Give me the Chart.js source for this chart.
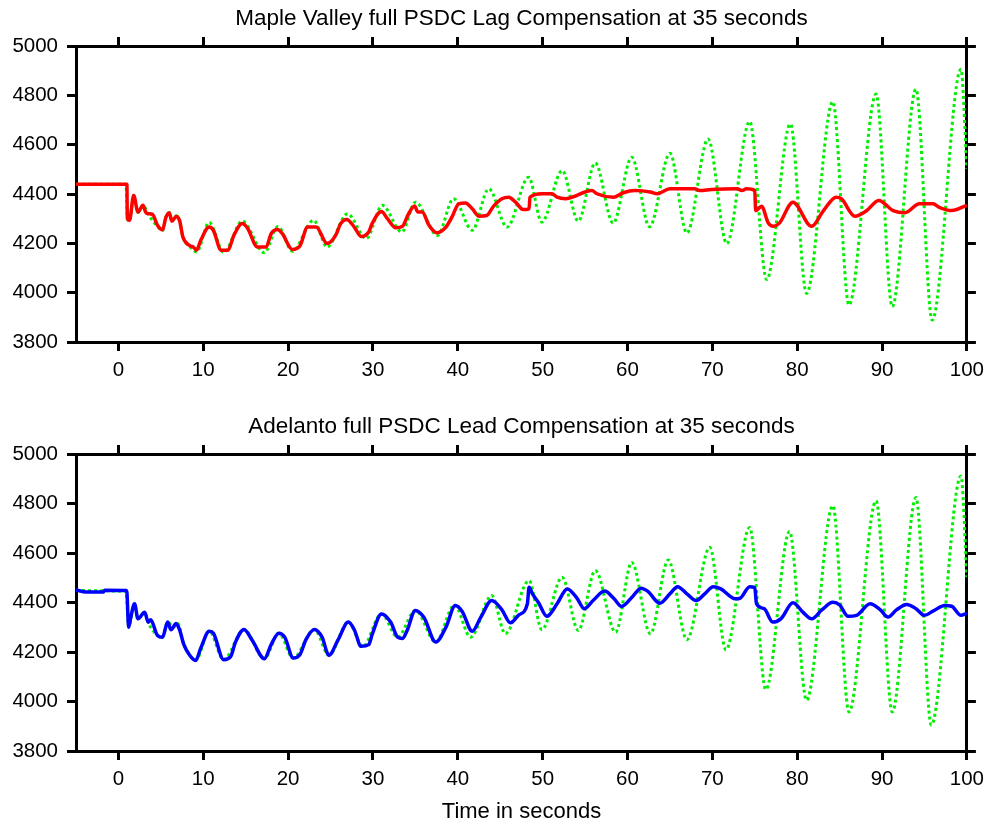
<!DOCTYPE html>
<html>
<head>
<meta charset="utf-8">
<title>PSDC Compensation</title>
<script src="https://cdn.jsdelivr.net/npm/chart.js@4.4.1/dist/chart.umd.min.js"></script>
<style>
  body { margin: 0; background: #fff; }
  #wrap { position: relative; width: 991px; height: 827px; }
  canvas { position: absolute; left: 0; }
  #chart-top { top: 0; }
  #chart-bottom { top: 400px; }
</style>
</head>
<body>
<div id="wrap">
  <canvas id="chart-top" width="991" height="400"></canvas>
  <canvas id="chart-bottom" width="991" height="427"></canvas>
</div>
<script>
// axis ticks
const xTicks = [0, 10, 20, 30, 40, 50, 60, 70, 80, 90, 100];
const yTicks = [3800, 4000, 4200, 4400, 4600, 4800, 5000];

// Maple Valley, no compensation (green dotted) - [time, value]
const mapleOpen = [[-5, 4440], [0.9, 4440], [1.05, 4300], [1.3, 4290], [1.8, 4395], [2.3, 4325], [2.9, 4355], [3.5, 4318],
  [4.6, 4270], [5.2, 4252], [5.6, 4305], [6.0, 4325], [6.3, 4288], [6.8, 4312], [7.2, 4295], [7.6, 4225], [8.4, 4188],
  [9.2, 4165], [10.7, 4285], [12.4, 4163], [14.6, 4290], [17.2, 4162], [18.8, 4268], [20.5, 4168], [23.0, 4293],
  [24.6, 4185], [27.0, 4320], [29.2, 4219], [31.1, 4354], [33.4, 4246], [35.0, 4367], [37.6, 4232], [39.5, 4381],
  [41.7, 4253], [43.65, 4421], [45.8, 4266], [48.35, 4468], [49.9, 4286], [52.3, 4495], [54.2, 4290], [56.2, 4526],
  [58.3, 4282], [60.5, 4549], [62.6, 4267], [65.0, 4565], [67.0, 4242], [69.5, 4623], [71.7, 4199], [74.4, 4694],
  [76.4, 4053], [79.2, 4684], [81.1, 3997], [84.2, 4774], [86.1, 3950], [89.3, 4805], [91.2, 3943], [94.0, 4825],
  [95.9, 3889], [99.3, 4906], [100, 4502]];

// Maple Valley, lag compensation (red)
const mapleLag = [[-5, 4440], [1.0, 4440], [1.05, 4300], [1.3, 4293], [1.8, 4394], [2.3, 4327], [2.9, 4354], [3.2, 4327],
  [3.5, 4320], [4.0, 4318], [4.6, 4273], [5.2, 4255], [5.6, 4306], [6.0, 4323], [6.3, 4290], [6.8, 4309], [7.2, 4293],
  [7.6, 4226], [8.35, 4192], [8.9, 4183], [9.2, 4172], [9.7, 4212], [10.7, 4266], [11.2, 4252], [12.1, 4172],
  [12.9, 4172], [13.6, 4232], [14.6, 4280], [15.2, 4262], [16.4, 4185], [17.4, 4185], [18.0, 4239], [18.75, 4256],
  [19.3, 4240], [20.5, 4175], [21.4, 4190], [22.3, 4266], [23.3, 4266], [24.6, 4199], [25.6, 4232], [26.2, 4280],
  [26.9, 4297], [27.8, 4266], [28.6, 4228], [29.5, 4246], [29.9, 4280], [31.0, 4329], [31.7, 4300], [32.7, 4263],
  [33.5, 4270], [34.2, 4320], [34.9, 4351], [35.3, 4327], [35.8, 4327], [36.6, 4273], [37.5, 4243], [38.6, 4266],
  [39.3, 4306], [40.1, 4360], [40.9, 4364], [41.7, 4340], [42.5, 4310], [43.4, 4313], [44.2, 4350], [45.2, 4381],
  [46.0, 4387], [46.8, 4367], [47.7, 4337], [48.4, 4340], [48.5, 4387], [49.9, 4401], [51.1, 4401], [51.7, 4387],
  [52.7, 4381], [53.8, 4391], [55.0, 4408], [55.8, 4414], [56.4, 4401], [58.4, 4387], [59.5, 4405], [60.9, 4414],
  [62.7, 4408], [63.5, 4401], [65.0, 4421], [67.9, 4421], [68.5, 4414], [69.9, 4418], [72.9, 4421], [73.5, 4414],
  [74.0, 4421], [75.0, 4414], [75.1, 4333], [75.8, 4350], [76.6, 4282], [77.2, 4269], [77.9, 4282], [79.5, 4367],
  [81.7, 4269], [83.1, 4333], [84.6, 4387], [85.2, 4381], [86.8, 4310], [88.2, 4333], [89.6, 4374], [91.3, 4333],
  [92.7, 4324], [94.4, 4360], [96.0, 4360], [96.8, 4345], [98.2, 4333], [100, 4354]];

// Adelanto, no compensation (green dotted)
const adelOpen = [[-5, 4448], [0.9, 4445], [1.2, 4300], [1.9, 4395], [2.3, 4334], [3.1, 4361], [3.5, 4320], [4.6, 4267],
  [5.2, 4260], [5.8, 4321], [6.5, 4300], [7.0, 4315], [7.7, 4231], [8.4, 4187], [9.1, 4166], [10.7, 4284], [12.4, 4169],
  [14.8, 4291], [17.2, 4173], [18.9, 4276], [20.6, 4176], [23.1, 4291], [24.8, 4187], [27.1, 4321], [28.8, 4223],
  [31.0, 4354], [32.9, 4260], [35.0, 4368], [37.4, 4240], [39.6, 4390], [41.5, 4260], [44.0, 4428], [45.6, 4274],
  [48.4, 4489], [49.9, 4290], [52.3, 4502], [54.2, 4287], [56.2, 4529], [58.6, 4280], [60.5, 4562], [62.7, 4274],
  [64.8, 4572], [67.0, 4250], [69.7, 4623], [71.6, 4209], [74.4, 4703], [76.3, 4048], [79.1, 4687], [81.1, 4005],
  [84.2, 4791], [86.1, 3958], [89.3, 4811], [91.2, 3958], [94.0, 4824], [95.8, 3905], [99.3, 4911], [100, 4502]];

// Adelanto, lead compensation (blue)
const adelLead = [[-5, 4451], [-3.8, 4442], [-1.8, 4442], [-1.6, 4450], [0.9, 4448], [1.0, 4440], [1.2, 4300], [1.4, 4330],
  [1.9, 4395], [2.3, 4334], [3.1, 4361], [3.5, 4320], [3.8, 4330], [4.6, 4267], [5.2, 4260], [5.8, 4321], [6.2, 4290],
  [6.8, 4315], [7.2, 4290], [7.7, 4231], [8.4, 4187], [9.1, 4166], [9.7, 4215], [10.7, 4284], [11.2, 4276], [12.4, 4169],
  [13.2, 4180], [13.8, 4240], [14.8, 4291], [15.8, 4245], [17.2, 4173], [18.0, 4230], [18.9, 4276], [19.6, 4260],
  [20.6, 4176], [21.4, 4190], [22.1, 4250], [23.1, 4291], [24.0, 4260], [24.8, 4187], [25.9, 4250], [27.1, 4321],
  [27.8, 4290], [28.6, 4223], [29.5, 4230], [29.9, 4270], [31.0, 4354], [32.1, 4320], [32.9, 4260], [33.5, 4255],
  [34.0, 4285], [35.0, 4368], [36.0, 4340], [37.4, 4240], [38.6, 4300], [39.7, 4388], [40.5, 4365], [41.7, 4284],
  [42.7, 4340], [44.0, 4408], [45.2, 4370], [46.2, 4318], [47.2, 4350], [48.2, 4395], [48.4, 4462], [48.8, 4435],
  [49.5, 4400], [50.5, 4344], [51.7, 4395], [52.9, 4455], [54.0, 4420], [54.9, 4375], [56.0, 4410], [57.3, 4446],
  [58.4, 4416], [59.3, 4384], [60.5, 4420], [61.6, 4458], [62.4, 4445], [63.8, 4397], [65.0, 4435], [65.9, 4464],
  [67.0, 4435], [68.1, 4408], [69.1, 4435], [70.1, 4464], [71.0, 4455], [72.7, 4415], [73.3, 4418], [74.4, 4464],
  [75.0, 4460], [75.2, 4395], [76.1, 4375], [77.1, 4321], [78.1, 4335], [79.5, 4399], [80.7, 4360], [81.7, 4334],
  [82.9, 4370], [84.2, 4401], [85.0, 4390], [86.0, 4344], [87.0, 4348], [88.6, 4395], [89.8, 4370], [90.7, 4341],
  [91.7, 4370], [92.9, 4392], [94.0, 4375], [95.0, 4348], [96.0, 4365], [97.4, 4388], [98.2, 4385], [99.3, 4348],
  [100, 4357]];

Chart.defaults.font.family = "Arial, 'Liberation Sans', sans-serif";
Chart.defaults.color = '#000';

function toPoints(pares) {
  return pares.map(p => ({ x: p[0], y: p[1] }));
}

function greenLine(pares) {
  return {
    label: 'No compensation',
    data: toPoints(pares),
    borderColor: '#00ee00',
    borderWidth: 3,
    borderDash: [3, 3],
    cubicInterpolationMode: 'monotone',
    pointRadius: 0,
    order: 2
  };
}

function solidLine(pares, label, color) {
  return {
    label: label,
    data: toPoints(pares),
    borderColor: color,
    borderWidth: 3.5,
    cubicInterpolationMode: 'monotone',
    pointRadius: 0,
    order: 1
  };
}

function makeChart(id, titleText, titlePadding, datasets, xHeight, xTitle) {
  // only the little tick marks outside the box, no grid
  const tickOnly = { drawOnChartArea: false, drawTicks: true, tickLength: 9, tickWidth: 3, tickColor: '#000', color: '#000', lineWidth: 3 };
  const border = { display: true, width: 3, color: '#000' };
  const setX = scale => { scale.ticks = xTicks.map(v => ({ value: v })); };
  const setY = scale => { scale.ticks = yTicks.map(v => ({ value: v })); };
  const label = v => String(v);

  return new Chart(document.getElementById(id), {
    type: 'line',
    data: { datasets: datasets },
    options: {
      responsive: false,
      animation: false,
      events: [],
      layout: { padding: 0 },
      plugins: {
        legend: { display: false },
        tooltip: { enabled: false },
        title: {
          display: true,
          text: titleText,
          fullSize: false,
          color: '#000',
          font: { size: 22.5, weight: 'normal' },
          padding: titlePadding
        }
      },
      scales: {
        x: {
          type: 'linear', position: 'bottom', min: -5, max: 100,
          afterBuildTicks: setX,
          afterFit: s => { s.height = xHeight; },
          grid: tickOnly, border: border,
          ticks: { color: '#000', font: { size: 20.5 }, padding: 7, maxRotation: 0, callback: label },
          title: { display: !!xTitle, text: xTitle || '', color: '#000', font: { size: 22 }, padding: { top: 0, bottom: 2 } }
        },
        x2: {
          type: 'linear', position: 'top', min: -5, max: 100,
          afterBuildTicks: setX,
          afterFit: s => { s.height = 9; },
          grid: tickOnly, border: border,
          ticks: { display: false }
        },
        y: {
          type: 'linear', position: 'left', min: 3800, max: 5000,
          afterBuildTicks: setY,
          afterFit: s => { s.width = 76; },
          grid: tickOnly, border: border,
          ticks: { color: '#000', font: { size: 20.5 }, padding: 9, callback: label }
        },
        y2: {
          type: 'linear', position: 'right', min: 3800, max: 5000,
          afterBuildTicks: setY,
          afterFit: s => { s.width = 23; },
          grid: tickOnly, border: border,
          ticks: { display: false }
        }
      }
    }
  });
}

makeChart('chart-top', 'Maple Valley full PSDC Lag Compensation at 35 seconds', { top: 5, bottom: 5 },
  [solidLine(mapleLag, 'Lag compensation', '#ff0000'), greenLine(mapleOpen)], 58, null);

makeChart('chart-bottom', 'Adelanto full PSDC Lead Compensation at 35 seconds', { top: 13, bottom: 5 },
  [solidLine(adelLead, 'Lead compensation', '#0000ff'), greenLine(adelOpen)], 76, 'Time in seconds');
</script>
</body>
</html>
